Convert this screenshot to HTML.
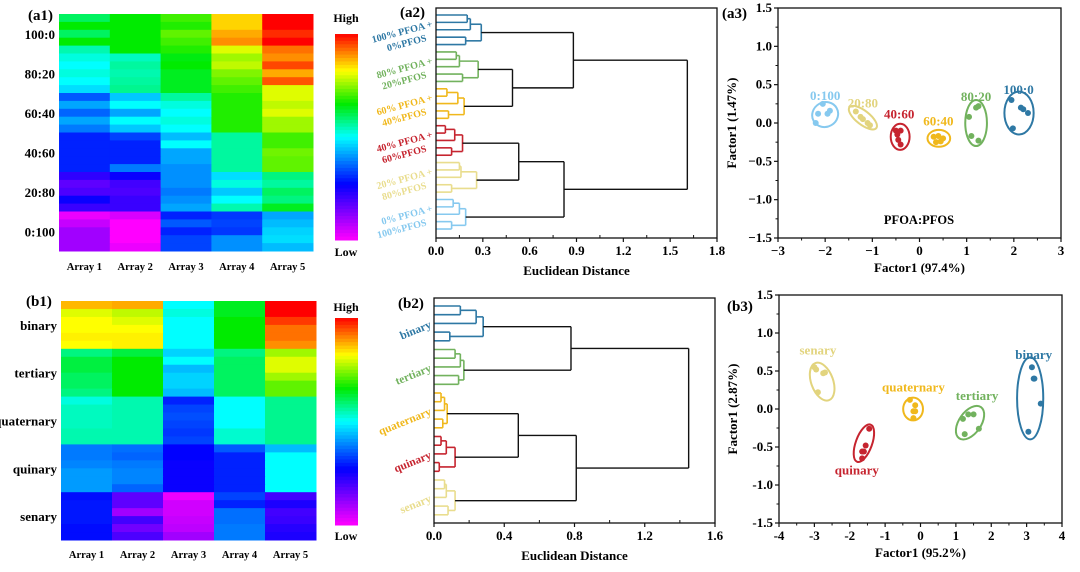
<!DOCTYPE html>
<html><head><meta charset="utf-8">
<style>
html,body{margin:0;padding:0;background:#fff;}
svg{display:block;font-family:"Liberation Serif",serif;font-weight:bold;}
</style></head>
<body>
<svg id="fig" width="1080" height="572" viewBox="0 0 1080 572" xmlns="http://www.w3.org/2000/svg"></svg>
<script>
// ---------- DATA ----------
const heatCols = ["Array 1","Array 2","Array 3","Array 4","Array 5"];
const a1Groups = ["100:0","80:20","60:40","40:60","20:80","0:100"];
// rows x columns (Array1..Array5), 0 = low, 1 = high
const a1Values = [
[0.60,0.66,0.70,0.85,1.00],[0.66,0.66,0.68,0.85,1.00],[0.60,0.66,0.72,0.88,0.97],[0.66,0.66,0.70,0.90,1.00],[0.55,0.66,0.68,0.80,0.92],
[0.52,0.54,0.65,0.76,0.90],[0.50,0.56,0.66,0.78,0.95],[0.52,0.55,0.64,0.74,0.88],[0.50,0.56,0.64,0.72,0.94],[0.47,0.57,0.64,0.70,0.80],
[0.35,0.45,0.56,0.68,0.80],[0.42,0.50,0.52,0.68,0.78],[0.36,0.42,0.50,0.68,0.80],[0.42,0.50,0.52,0.68,0.76],[0.38,0.45,0.50,0.68,0.76],
[0.30,0.33,0.44,0.56,0.70],[0.30,0.30,0.50,0.56,0.70],[0.30,0.30,0.42,0.56,0.73],[0.30,0.30,0.42,0.56,0.72],[0.30,0.38,0.40,0.56,0.72],
[0.22,0.26,0.40,0.47,0.58],[0.17,0.20,0.40,0.52,0.56],[0.19,0.19,0.38,0.45,0.60],[0.26,0.21,0.40,0.50,0.58],[0.21,0.21,0.42,0.55,0.64],
[0.02,0.04,0.30,0.32,0.42],[0.06,0.00,0.35,0.33,0.44],[0.10,0.00,0.30,0.32,0.46],[0.10,0.00,0.33,0.40,0.47],[0.10,0.02,0.33,0.40,0.44]
];
const b1Groups = ["binary","tertiary","quaternary","quinary","senary"];
const b1Values = [
[0.87,0.88,0.50,0.64,1.00],[0.80,0.78,0.52,0.64,1.00],[0.82,0.80,0.50,0.66,0.96],[0.82,0.82,0.50,0.66,0.92],[0.83,0.83,0.50,0.66,0.92],[0.82,0.83,0.50,0.66,0.90],
[0.58,0.62,0.46,0.58,0.76],[0.62,0.66,0.50,0.60,0.80],[0.62,0.66,0.44,0.60,0.80],[0.60,0.66,0.46,0.60,0.76],[0.60,0.66,0.46,0.60,0.72],[0.58,0.66,0.44,0.60,0.72],
[0.52,0.55,0.30,0.50,0.57],[0.54,0.55,0.33,0.50,0.57],[0.54,0.55,0.34,0.50,0.57],[0.54,0.55,0.33,0.50,0.57],[0.55,0.55,0.32,0.53,0.57],[0.55,0.55,0.33,0.53,0.57],
[0.38,0.37,0.27,0.35,0.44],[0.38,0.36,0.27,0.30,0.50],[0.39,0.38,0.26,0.30,0.50],[0.41,0.39,0.26,0.30,0.50],[0.41,0.39,0.26,0.30,0.50],[0.41,0.36,0.26,0.30,0.50],
[0.28,0.17,0.02,0.33,0.20],[0.29,0.17,0.05,0.30,0.24],[0.29,0.10,0.05,0.37,0.20],[0.29,0.20,0.06,0.37,0.21],[0.28,0.15,0.07,0.38,0.23],[0.28,0.19,0.10,0.38,0.24]
];
// dendrograms: per group [pair(l0,l1), pair(l3,l4), (l0l1+l2), group root]
const a2GroupHeights = [[0.20,0.19,0.22,0.29],[0.13,0.17,0.15,0.27],[0.07,0.08,0.14,0.18],[0.06,0.10,0.12,0.17],[0.15,0.10,0.16,0.26],[0.11,0.10,0.15,0.19]];
const a2TopHeights = [0.49,0.88,0.53,0.82,1.61];
const a2Ticks = ["0.0","0.3","0.6","0.9","1.2","1.5","1.8"];
const b2GroupHeights = [[0.15,0.09,0.24,0.28],[0.12,0.14,0.15,0.17],[0.04,0.05,0.06,0.075],[0.04,0.03,0.07,0.12],[0.06,0.08,0.07,0.12]];
const b2TopHeights = [0.78,0.48,0.81,1.45];
const b2Ticks = ["0.0","0.4","0.8","1.2","1.6"];
// scatter a3
const a3Labels = ["0:100","20:80","40:60","60:40","80:20","100:0"];
const a3X = [[-2.05,-2.15,-1.95,-1.9,-2.2],[-1.35,-1.25,-1.2,-1.1,-1.05],[-0.5,-0.4,-0.45,-0.4,-0.47],[0.3,0.4,0.5,0.35,0.45],[1.2,1.25,1.05,1.1,1.25],[1.95,2.15,2.2,2.3,1.98]];
const a3Y = [[0.25,0.12,0.12,0.16,0.0],[0.15,0.08,0.05,0.0,-0.03],[-0.1,-0.1,-0.22,-0.28,-0.15],[-0.18,-0.17,-0.2,-0.25,-0.24],[0.2,0.22,0.08,-0.17,-0.23],[0.3,0.2,0.18,0.13,-0.07]];
const a3Ell = [[-2.0,0.11,0.28,0.16,-30],[-1.2,0.07,0.36,0.09,38],[-0.41,-0.18,0.2,0.17,0],[0.41,-0.2,0.24,0.11,0],[1.2,0.0,0.23,0.3,0],[2.11,0.13,0.31,0.28,0]];
const a3XTicks = ["\u22123","\u22122","\u22121","0","1","2","3"];
const a3YTicks = ["\u22121.5","\u22121.0","\u22120.5","0.0","0.5","1.0","1.5"];
// scatter b3
const b3Labels = ["senary","quinary","quaternary","tertiary","binary"];
const b3X = [[-3.0,-2.95,-2.7,-2.75,-2.9],[-1.45,-1.55,-1.6,-1.65,-1.65],[-0.3,-0.15,-0.15,-0.2,-0.2],[1.35,1.5,1.2,1.65,1.25],[3.15,3.22,3.2,3.4,3.05]];
const b3Y = [[0.55,0.52,0.48,0.47,0.22],[-0.26,-0.48,-0.56,-0.56,-0.65],[0.12,0.05,-0.03,-0.03,-0.12],[-0.07,-0.07,-0.13,-0.26,-0.33],[0.55,0.4,0.4,0.07,-0.3]];
const b3Ell = [[-2.78,0.36,0.31,0.26,-20],[-1.6,-0.45,0.23,0.26,20],[-0.21,0.0,0.28,0.15,0],[1.4,-0.18,0.31,0.25,35],[3.1,0.14,0.37,0.54,0]];
const b3XTicks = ["-4","-3","-2","-1","0","1","2","3","4"];
const b3YTicks = ["-1.5","-1.0","-0.5","0.0","0.5","1.0","1.5"];

// ---------- helpers ----------
const NS="http://www.w3.org/2000/svg";
const svg=document.getElementById('fig');
function mk(tag,attrs,parent){const e=document.createElementNS(NS,tag);for(const k in attrs)e.setAttribute(k,attrs[k]);(parent||svg).appendChild(e);return e;}
function txt(s,attrs,parent){const e=mk('text',attrs,parent);e.textContent=s;return e;}
const stops=[[0,[255,0,255]],[0.27,[0,0,255]],[0.5,[0,255,255]],[0.66,[0,235,0]],[0.82,[255,255,0]],[1,[255,0,0]]];
function cmap(v){v=Math.max(0,Math.min(1,v));for(let i=1;i<stops.length;i++){if(v<=stops[i][0]){const a=stops[i-1],b=stops[i];const t=(v-a[0])/(b[0]-a[0]);const c=a[1].map((x,j)=>Math.round(x+(b[1][j]-x)*t));return `rgb(${c[0]},${c[1]},${c[2]})`;}}return 'rgb(255,0,0)';}
const COLS6=["#2e78a4","#72b25e","#f0b81c","#c6242f","#e9dd8e","#86c9ef"];
const COLS5=["#2e78a4","#72b25e","#f0b81c","#c6242f","#e9dd8e"];

// ---------- heatmap ----------
function heatmap(id,x0,x1,y0,y1,vals,groups,cbY0,cbY1,hiY,loY,labY){
  const g=mk('g',{});
  
  
  const nr=vals.length,nc=heatCols.length,cw=(x1-x0)/nc,rh=(y1-y0)/nr;
  vals.forEach((row,r)=>row.forEach((v,c)=>{
    const cell=mk('rect',{x:x0+c*cw,y:y0+r*rh,width:cw+0.5,height:rh+0.5,fill:cmap(v)},g);
    
    
  }));
  const per=nr/groups.length;
  groups.forEach((s,i)=>{
    const t=txt(s,{x:x0-4,y:y0+(i+0.5)*per*rh+5,'text-anchor':'end','font-size':13},g);
    
    
  });
  heatCols.forEach((s,i)=>{
    const t=txt(s,{x:x0+(i+0.5)*cw,y:labY,'text-anchor':'middle','font-size':10.5},g);
    
    
  });
  const n=60,ch=(cbY1-cbY0)/n;
  for(let i=0;i<n;i++){
    const s=mk('rect',{x:335,y:cbY0+i*ch,width:23,height:ch+0.5,fill:cmap(1-(i+0.5)/n)},g);
    
    
  }
  const hi=txt('High',{x:346,y:hiY,'text-anchor':'middle','font-size':12},g);
  
  
  const lo=txt('Low',{x:346,y:loY,'text-anchor':'middle','font-size':12},g);
  
  
}
heatmap('heatmap-a1',59,313,14,251,a1Values,a1Groups,34,240,22,256,270);
heatmap('heatmap-b1',61,316,301,540,b1Values,b1Groups,318,525,311,540,558);
const pa1=txt('(a1)',{x:28,y:20,'font-size':15});


const pb1=txt('(b1)',{x:26,y:306,'font-size':15});



// ---------- dendrogram ----------
function dendro(id,box,xmax,ticks,leafY0,leafDy,groupH,topH,structure,cols,tickStep){
  const g=mk('g',{});
  
  
  const [X0,X1,Y0,Y1]=box;
  const sx=h=>X0+h/xmax*(X1-X0);
  function line(x1,y1,x2,y2,c,w){const l=mk('line',{x1,y1,x2,y2,stroke:c,'stroke-width':w},g);}
  function merge(a,b,h,c,w){line(sx(a.h),a.y,sx(h),a.y,c,w);line(sx(b.h),b.y,sx(h),b.y,c,w);line(sx(h),a.y,sx(h),b.y,c,w);return {h,y:(a.y+b.y)/2};}
  const roots=groupH.map((hs,gi)=>{
    const c=cols[gi];const L=[0,1,2,3,4].map(k=>({h:0,y:leafY0+(gi*5+k)*leafDy}));
    const A=merge(L[0],L[1],hs[0],c,1.6),B=merge(L[3],L[4],hs[1],c,1.6),C=merge(A,L[2],hs[2],c,1.6);
    return merge(C,B,hs[3],c,1.6);
  });
  structure(roots,topH,(a,b,h)=>merge(a,b,h,'#111',1.4));
  const fr=mk('rect',{x:X0,y:Y0,width:X1-X0,height:Y1-Y0,fill:'none',stroke:'#111','stroke-width':1.3},g);
  
  
  ticks.forEach((s,i)=>{
    const v=i*tickStep;const x=sx(v);
    line(x,Y1,x,Y1+4,'#111',1.2);
    if(i<ticks.length-1)line(sx(v+tickStep/2),Y1,sx(v+tickStep/2),Y1-3,'#111',1);
    const t=txt(s,{x,y:Y1+17,'text-anchor':'middle','font-size':13},g);
    
    
  });
  const tt=txt('Euclidean Distance',{x:(X0+X1)/2,y:Y1+37,'text-anchor':'middle','font-size':13},g);
  
  
  return g;
}
const ga2=dendro('dendrogram-a2',[436,717,8,238],1.8,a2Ticks,15,7.38,a2GroupHeights,a2TopHeights,(G,t,m)=>{
  const M1=m(G[1],G[2],t[0]);const M2=m(G[0],M1,t[1]);const M3=m(G[3],G[4],t[2]);const M4=m(M3,G[5],t[3]);m(M2,M4,t[4]);
},COLS6,0.3);
const a2Lab=[["100% PFOA +","0%PFOS"],["80% PFOA +","20%PFOS"],["60% PFOA +","40%PFOS"],["40% PFOA +","60%PFOS"],["20% PFOA +","80%PFOS"],["0% PFOA +","100%PFOS"]];
a2Lab.forEach((p,i)=>{
  const cy=15+(i*5+2)*7.38;
  const t1=txt(p[0],{x:433,y:cy-3,'text-anchor':'end','font-size':10,fill:COLS6[i],transform:`rotate(-15 433 ${cy-3})`},ga2);
  
  
  const t2=txt(p[1],{x:427,y:cy+11,'text-anchor':'end','font-size':10,fill:COLS6[i],transform:`rotate(-15 427 ${cy+11})`},ga2);
  
  
});
const pa2=txt('(a2)',{x:400,y:17,'font-size':15});



const gb2=dendro('dendrogram-b2',[434,715,298,523],1.6,b2Ticks,306,8.7,b2GroupHeights,b2TopHeights,(G,t,m)=>{
  const M1=m(G[0],G[1],t[0]);const M2=m(G[2],G[3],t[1]);const M3=m(M2,G[4],t[2]);m(M1,M3,t[3]);
},COLS5,0.4);
b1Groups.forEach((s,i)=>{
  const cy=306+(i*5+2)*8.7+4;
  const t=txt(s,{x:432,y:cy,'text-anchor':'end','font-size':11.5,fill:COLS5[i],transform:`rotate(-22 432 ${cy})`},gb2);
  
  
});
const pb2=txt('(b2)',{x:398,y:308,'font-size':15});



// ---------- scatter ----------
function scatter(id,box,xr,yr,xt,yt,X,Y,E,labels,labOff,cols,xTitle,yTitle){
  const g=mk('g',{});
  
  
  const [X0,X1,Y0,Y1]=box;
  const sx=v=>X0+(v-xr[0])/(xr[1]-xr[0])*(X1-X0);
  const sy=v=>Y1-(v-yr[0])/(yr[1]-yr[0])*(Y1-Y0);
  const fr=mk('rect',{x:X0,y:Y0,width:X1-X0,height:Y1-Y0,fill:'none',stroke:'#111','stroke-width':1.3},g);
  
  
  xt.forEach((s,i)=>{
    const v=xr[0]+i;const x=sx(v);
    mk('line',{x1:x,y1:Y1,x2:x,y2:Y1+4,stroke:'#111','stroke-width':1.2},g);
    if(i<xt.length-1)mk('line',{x1:sx(v+0.5),y1:Y1,x2:sx(v+0.5),y2:Y1+2.5,stroke:'#111','stroke-width':1},g);
    const t=txt(s,{x,y:Y1+17,'text-anchor':'middle','font-size':13},g);
    
    
  });
  yt.forEach((s,i)=>{
    const v=yr[0]+i*0.5;const y=sy(v);
    mk('line',{x1:X0-4,y1:y,x2:X0,y2:y,stroke:'#111','stroke-width':1.2},g);
    if(i<yt.length-1)mk('line',{x1:X0-2.5,y1:sy(v+0.25),x2:X0,y2:sy(v+0.25),stroke:'#111','stroke-width':1},g);
    const t=txt(s,{x:X0-6,y:y+4,'text-anchor':'end','font-size':13},g);
    
    
  });
  const xtl=txt(xTitle,{x:(X0+X1)/2,y:Y1+34,'text-anchor':'middle','font-size':13},g);
  
  
  const yx=X0-42,yy=(Y0+Y1)/2;
  const ytl=txt(yTitle,{x:yx,y:yy,'text-anchor':'middle','font-size':13,transform:`rotate(-90 ${yx} ${yy})`},g);
  
  
  const kx=(X1-X0)/(xr[1]-xr[0]),ky=(Y1-Y0)/(yr[1]-yr[0]);
  E.forEach((e,i)=>{
    const cx=sx(e[0]),cy=sy(e[1]);
    const el=mk('ellipse',{cx,cy,rx:e[2]*kx,ry:e[3]*ky,fill:'none',stroke:cols[i],'stroke-width':2,transform:`rotate(${e[4]} ${cx} ${cy})`},g);
    
    
    X[i].forEach((xv,j)=>{
      const p=mk('circle',{cx:sx(xv),cy:sy(Y[i][j]),r:3,fill:cols[i]},g);
      
      
    });
    const lb=txt(labels[i],{x:sx(labOff[i][0]),y:sy(labOff[i][1]),'text-anchor':'middle','font-size':13,fill:cols[i]},g);
    
    
  });
  return g;
}
const a3LabPos=[[-2.0,0.3],[-1.2,0.2],[-0.43,0.06],[0.4,-0.03],[1.2,0.29],[2.1,0.38]];
const ga3=scatter('scatter-a3',[778,1061,8,238],[-3,3],[-1.5,1.5],a3XTicks,a3YTicks,a3X,a3Y,a3Ell,a3Labels,a3LabPos,["#86c9ef","#e2d47e","#c6242f","#f0b81c","#72b25e","#2e78a4"],'Factor1 (97.4%)','Factor1 (1.47%)');
const pf=txt('PFOA:PFOS',{x:919,y:224,'text-anchor':'middle','font-size':12.5},ga3);


const pa3=txt('(a3)',{x:722,y:18,'font-size':15});



const b3LabPos=[[-2.9,0.72],[-1.8,-0.86],[-0.2,0.23],[1.6,0.12],[3.2,0.66]];
scatter('scatter-b3',[779,1062,295,523],[-4,4],[-1.5,1.5],b3XTicks,b3YTicks,b3X,b3Y,b3Ell,b3Labels,b3LabPos,["#e2d47e","#c6242f","#f0b81c","#72b25e","#2e78a4"],'Factor1 (95.2%)','Factor1 (2.87%)');
const pb3=txt('(b3)',{x:727,y:311,'font-size':15});


</script>
</body></html>
